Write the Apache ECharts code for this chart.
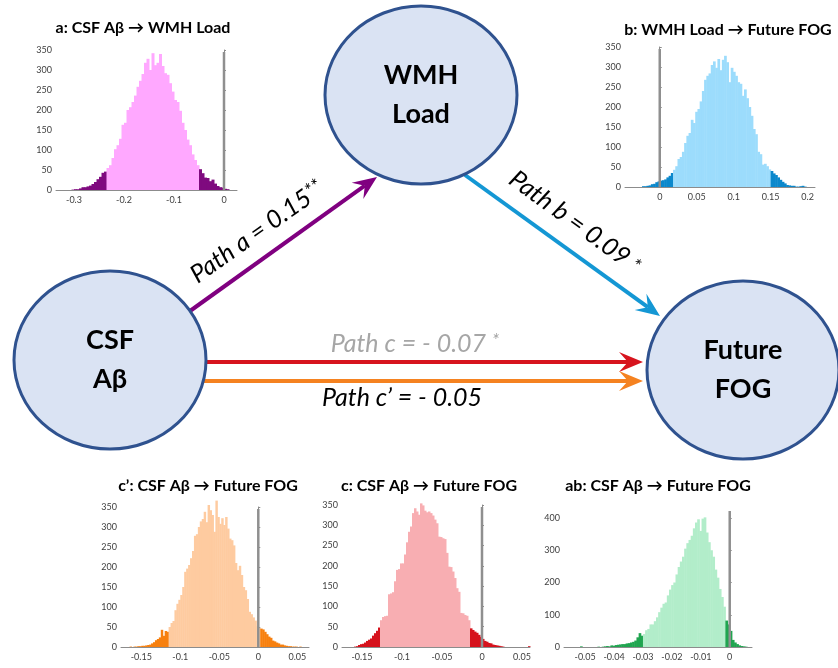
<!DOCTYPE html>
<html>
<head>
<meta charset="utf-8">
<script src="https://cdn.jsdelivr.net/npm/echarts@6/dist/echarts.min.js"></script>
<style>
  html, body { margin: 0; padding: 0; background: #fff; }
  #chart { width: 838px; height: 668px; }
</style>
</head>
<body>
<div id="chart"></div>
<script>
// bootstrap distributions: first bin start, bin width, counts, 95% CI
const aStart = -0.305, aWidth = 0.005;
const aCounts = [1, 2, 2, 4, 7, 7, 9, 11, 15, 20, 27, 33, 43, 46, 55, 62, 80, 102, 112, 128,
  163, 168, 200, 207, 220, 236, 258, 273, 290, 318, 328, 300, 342, 312, 318, 340, 310, 292, 288, 267,
  246, 225, 220, 198, 168, 150, 126, 112, 89, 75, 62, 52, 42, 31, 30, 22, 26, 16, 10, 7, 6, 3, 2];
const aCI = [-0.235, -0.050];
const aXTicks = [-0.3, -0.2, -0.1, 0];

const bStart = -0.024, bWidth = 0.003;
const bCounts = [2, 2, 3, 4, 7, 8, 12, 14, 16, 17, 19, 24, 28, 35, 43, 52, 70, 75, 88, 110,
  128, 135, 168, 160, 188, 195, 214, 240, 268, 278, 284, 305, 314, 298, 320, 292, 318, 328, 312, 262,
  298, 288, 278, 262, 258, 228, 244, 222, 200, 178, 145, 132, 88, 82, 56, 58, 52, 44, 40, 34,
  30, 24, 18, 13, 9, 5, 4, 3, 3, 1, 1, 2, 3, 1];
const bCI = [0.018, 0.150];
const bXTicks = [0, 0.05, 0.1, 0.15, 0.2];

const cpStart = -0.165, cpWidth = 0.0025;
const cpCounts = [1, 0, 1, 1, 2, 2, 3, 3, 4, 5, 6, 9, 12, 17, 20, 24, 43, 28, 40, 38,
  50, 60, 65, 92, 108, 118, 130, 150, 188, 196, 205, 222, 240, 278, 282, 300, 314, 320, 338, 312,
  355, 342, 330, 288, 366, 325, 308, 322, 305, 325, 296, 271, 267, 254, 210, 192, 203, 180, 150, 142,
  120, 88, 82, 74, 66, 52, 48, 46, 44, 38, 32, 26, 23, 16, 14, 11, 9, 6, 6, 4,
  3, 2, 2, 1, 1, 1, 0, 1];
const cpCI = [-0.115, 0.0025];
const cpXTicks = [-0.15, -0.1, -0.05, 0, 0.05];

const cStart = -0.160, cWidth = 0.0025;
const cCounts = [1, 2, 5, 7, 8, 11, 15, 18, 21, 28, 34, 40, 48, 66, 74, 76, 77, 130, 132, 135,
  162, 190, 192, 206, 206, 228, 258, 284, 297, 330, 342, 334, 326, 354, 349, 336, 332, 334, 330, 324,
  314, 305, 272, 271, 268, 266, 232, 198, 197, 186, 170, 145, 136, 84, 83, 79, 77, 66, 46, 42,
  38, 35, 30, 25, 20, 15, 13, 10, 9, 6, 5, 4, 3, 2, 1, 0, 0, 0, 0, 0,
  0, 0, 0, 0, 0, 0, 0, 2];
const cCI = [-0.1275, -0.015];
const cXTicks = [-0.15, -0.1, -0.05, 0, 0.05];

const abStart = -0.0525, abWidth = 0.00075;
const abCounts = [0, 2, 0, 0, 0, 0, 0, 0, 0, 1, 0, 1, 2, 3, 2, 5, 4, 6, 7, 8,
  9, 9, 11, 12, 14, 16, 20, 30, 43, 35, 40, 52, 56, 70, 70, 80, 92, 108, 122, 134,
  138, 160, 178, 192, 200, 225, 248, 265, 280, 305, 322, 332, 345, 368, 386, 396, 360, 398, 402, 355,
  325, 300, 280, 240, 215, 180, 155, 125, 82, 70, 50, 22, 14, 9, 5, 3, 2, 1];
const abCI = [-0.030, -0.0015];
const abXTicks = [-0.05, -0.04, -0.03, -0.02, -0.01, 0];

const panels = [
  { title: 'a: CSF Aβ → WMH Load', start: aStart, width: aWidth, counts: aCounts, ci: aCI, ticks: aXTicks,
    light: '#ffa8ff', dark: '#7f0a7f', xMin: -0.336, xMax: 0.026, yMax: 350, yStep: 50, lineTop: 345,
    grid: { left: 56, top: 50, width: 181, height: 140 }, tx: 143, ty: 28 },
  { title: 'b: WMH Load → Future FOG', start: bStart, width: bWidth, counts: bCounts, ci: bCI, ticks: bXTicks,
    light: '#9cdcfc', dark: '#0b88cc', xMin: -0.047, xMax: 0.21, yMax: 350, yStep: 50, lineTop: 345,
    grid: { left: 625, top: 47, width: 190, height: 140 }, tx: 728, ty: 30 },
  { title: 'c’: CSF Aβ → Future FOG', start: cpStart, width: cpWidth, counts: cpCounts, ci: cpCI, ticks: cpXTicks,
    light: '#fecba0', dark: '#f7800f', xMin: -0.176, xMax: 0.065, yMax: 350, yStep: 50, lineTop: 345,
    grid: { left: 121, top: 507, width: 188, height: 140 }, tx: 208, ty: 486 },
  { title: 'c: CSF Aβ → Future FOG', start: cStart, width: cWidth, counts: cCounts, ci: cCI, ticks: cXTicks,
    light: '#f8aeb2', dark: '#d6121c', xMin: -0.175, xMax: 0.06, yMax: 350, yStep: 50, lineTop: 345,
    grid: { left: 342, top: 505, width: 188, height: 142 }, tx: 429, ty: 486 },
  { title: 'ab: CSF Aβ → Future FOG', start: abStart, width: abWidth, counts: abCounts, ci: abCI, ticks: abXTicks,
    light: '#b2edca', dark: '#20a550', xMin: -0.0573, xMax: 0.0077, yMax: 400, yStep: 100, lineTop: 422,
    grid: { left: 564, top: 518, width: 188, height: 129 }, tx: 658, ty: 486 }
];

const labelFont = 'Lato, "Open Sans", sans-serif';
const axisGray = '#8c8c8c';

const chart = echarts.init(document.getElementById('chart'));

const grids = [], xAxes = [], yAxes = [], series = [];
panels.forEach((p, idx) => {
  grids.push(Object.assign({ containLabel: false }, p.grid));
  xAxes.push({
    type: 'value', gridIndex: idx, min: p.xMin, max: p.xMax,
    axisLine: { show: true, onZero: false, lineStyle: { color: axisGray, width: 1 } },
    axisTick: { show: false },
    splitLine: { show: false },
    axisLabel: { customValues: p.ticks, formatter: v => String(v), fontSize: 9, color: '#404040', fontFamily: labelFont, margin: 6 }
  });
  yAxes.push({
    type: 'value', gridIndex: idx, min: 0, max: p.yMax, interval: p.yStep,
    axisLine: { show: true, lineStyle: { color: axisGray, width: 1 } },
    axisTick: { show: true, inside: true, length: 2, lineStyle: { color: axisGray } },
    splitLine: { show: false },
    axisLabel: { fontSize: 9, color: '#404040', fontFamily: labelFont, margin: 4 }
  });
  series.push({
    type: 'custom', xAxisIndex: idx, yAxisIndex: idx, silent: true,
    data: p.counts.map((c, i) => [p.start + i * p.width, p.start + (i + 1) * p.width, c]),
    encode: { x: [0, 1], y: 2 },
    renderItem: (params, api) => {
      const x0 = api.value(0), x1 = api.value(1);
      const top = api.coord([x0, api.value(2)]);
      const base = api.coord([x1, 0]);
      const tail = x1 <= p.ci[0] + 1e-9 || x0 >= p.ci[1] - 1e-9;
      return {
        type: 'rect',
        shape: { x: top[0], y: top[1], width: base[0] - top[0] + 0.5, height: base[1] - top[1] },
        style: { fill: tail ? p.dark : p.light }
      };
    }
  });
  series.push({
    type: 'line', xAxisIndex: idx, yAxisIndex: idx, silent: true, clip: false,
    data: [[0, 0], [0, p.lineTop]], symbol: 'none', z: 3,
    lineStyle: { color: '#8f8f8f', width: 2.5 }
  });
});

// mediation diagram
function arrow(x1, y1, x2, y2, color) {
  const len = Math.hypot(x2 - x1, y2 - y1);
  const ux = (x2 - x1) / len, uy = (y2 - y1) / len;
  const nx = -uy, ny = ux;
  const L = 24, W = 10, N = 15;
  return [
    { type: 'line', z: 1, shape: { x1, y1, x2: x2 - ux * N, y2: y2 - uy * N },
      style: { stroke: color, lineWidth: 4 } },
    { type: 'polygon', z: 1, shape: { points: [
        [x2, y2],
        [x2 - ux * L + nx * W, y2 - uy * L + ny * W],
        [x2 - ux * N, y2 - uy * N],
        [x2 - ux * L - nx * W, y2 - uy * L - ny * W]] },
      style: { fill: color } }
  ];
}

function node(cx, cy, lines) {
  return [
    { type: 'ellipse', z: 2, shape: { cx, cy, rx: 96, ry: 89 },
      style: { fill: '#dae3f3', stroke: '#2f528f', lineWidth: 3 } },
    { type: 'text', z: 3, x: cx, y: cy - 20, style: { text: lines[0], fill: '#000',
        font: 'bold 27px ' + labelFont, align: 'center', verticalAlign: 'middle' } },
    { type: 'text', z: 3, x: cx, y: cy + 19, style: { text: lines[1], fill: '#000',
        font: 'bold 27px ' + labelFont, align: 'center', verticalAlign: 'middle' } }
  ];
}

const pathFont = 'italic 25px ' + labelFont;
const starFont = 'italic 19px ' + labelFont;
const graphics = [].concat(
  arrow(190, 311, 377, 177, '#800080'),
  arrow(465, 175, 660, 316, '#1497d4'),
  arrow(205, 362, 643, 362, '#d7141e'),
  arrow(204, 381, 643, 381, '#f58220'),
  node(421, 95, ['WMH', 'Load']),
  node(110, 360, ['CSF', 'Aβ']),
  node(743, 370, ['Future', 'FOG']),
  [
    { type: 'text', z: 4, x: 257, y: 232, rotation: 0.618, style: {
        text: '{m|Path a = 0.15}{s|**}', align: 'center', verticalAlign: 'middle',
        rich: { m: { font: pathFont, fill: '#000' }, s: { font: starFont, fill: '#000', verticalAlign: 'top' } } } },
    { type: 'text', z: 4, x: 575, y: 222, rotation: -0.627, style: {
        text: '{m|Path b = 0.09 }{s|*}', align: 'center', verticalAlign: 'middle',
        rich: { m: { font: pathFont, fill: '#000' }, s: { font: starFont, fill: '#000' } } } },
    { type: 'text', z: 4, x: 415, y: 344, style: {
        text: '{m|Path c = - 0.07 }{s|*}', align: 'center', verticalAlign: 'middle',
        rich: { m: { font: pathFont, fill: '#a6a6a6' }, s: { font: starFont, fill: '#a6a6a6', verticalAlign: 'top' } } } },
    { type: 'text', z: 4, x: 402, y: 398, style: {
        text: 'Path c’ = - 0.05', font: pathFont, fill: '#000', align: 'center', verticalAlign: 'middle' } }
  ],
  panels.map(p => ({ type: 'text', z: 4, x: p.tx, y: p.ty, style: {
    text: p.title, font: 'bold 16px ' + labelFont, fill: '#000', align: 'center', verticalAlign: 'middle' } }))
);

chart.setOption({
  animation: false,
  backgroundColor: '#fff',
  grid: grids,
  xAxis: xAxes,
  yAxis: yAxes,
  series: series,
  graphic: { elements: graphics }
});

window.addEventListener('resize', () => chart.resize());
</script>
</body>
</html>
